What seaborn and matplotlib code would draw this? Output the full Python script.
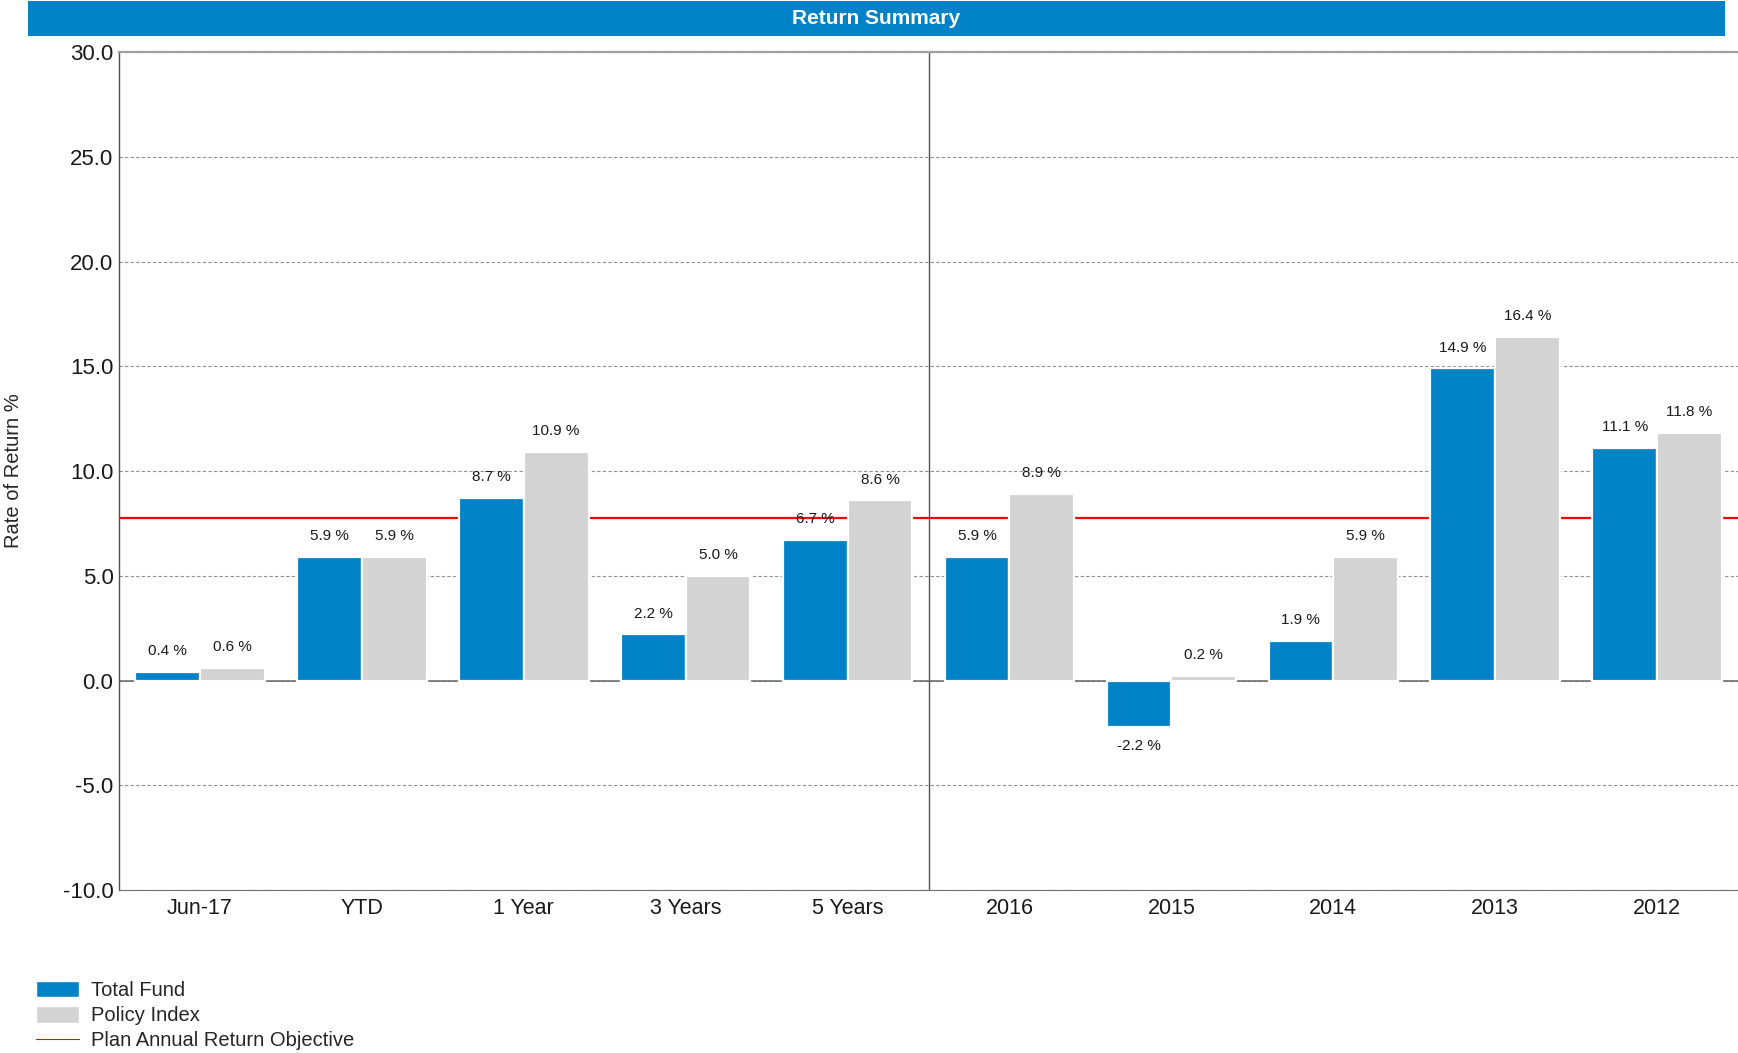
import pandas as pd
import matplotlib.pyplot as plt
import seaborn as sns
from matplotlib.patches import Rectangle, Patch
from matplotlib.lines import Line2D

# === data ===
periods = ["Jun-17", "YTD", "1 Year", "3 Years", "5 Years",
           "2016", "2015", "2014", "2013", "2012"]
total_fund = [0.4, 5.9, 8.7, 2.2, 6.7, 5.9, -2.2, 1.9, 14.9, 11.1]
policy_index = [0.6, 5.9, 10.9, 5.0, 8.6, 8.9, 0.2, 5.9, 16.4, 11.8]
objective = 7.75
y_ticks = [-10, -5, 0, 5, 10, 15, 20, 25, 30]

series_names = ["Total Fund", "Policy Index"]
blue = "#0083C6"
grey = "#D3D3D3"

df = pd.DataFrame({
    "period": periods * 2,
    "series": [series_names[0]] * len(periods) + [series_names[1]] * len(periods),
    "value": total_fund + policy_index,
})

sns.set_style("white")
plt.rcParams["font.family"] = ["Liberation Sans", "DejaVu Sans"]

fig = plt.figure(figsize=(17.38, 10.53), dpi=100)
ax = fig.add_axes([0.0685, 0.1548, 0.9315, 0.7958])

# === reference lines (behind the bars) ===
ax.axhline(0, color="#707070", lw=1.2, zorder=0.6)
ax.axhline(objective, color="#FF0000", lw=1.6, zorder=0.7)
ax.axvline(4.5, color="#505050", lw=1.0, zorder=0.7)

sns.barplot(data=df, x="period", y="value", hue="series", order=periods,
            hue_order=series_names, palette=[blue, grey], width=0.8,
            edgecolor="white", linewidth=1.6, saturation=1, errorbar=None,
            legend=False, ax=ax, zorder=1)

# === value labels ===
for cont in ax.containers:
    for bar in cont:
        h = bar.get_height()
        x = bar.get_x() + bar.get_width() / 2
        off = 15 if h >= 0 else -14
        ax.annotate(f"{h:.1f} %", (x, h), xytext=(0, off), textcoords="offset points",
                    ha="center", va="center", fontsize=11, color="#1a1a1a")

# === axes styling ===
ax.set_xlim(-0.5, 9.5)
ax.set_ylim(-10, 30)
ax.set_yticks(y_ticks)
ax.set_yticklabels([f"{v:.1f}" for v in y_ticks], fontsize=16)
ax.set_xticks(range(len(periods)))
ax.set_xticklabels(periods, fontsize=15.5)
ax.set_xlabel("")
ax.set_ylabel("")
ax.tick_params(axis="x", length=0, pad=6, colors="#1a1a1a")
ax.tick_params(axis="y", direction="in", length=14, color="#606060", pad=4,
               labelcolor="#1a1a1a")
ax.set_axisbelow(True)
ax.yaxis.grid(True, color="#909090", lw=0.8, linestyle=(0, (3, 2)))
ax.spines["left"].set_color("#505050")
ax.spines["left"].set_linewidth(1.0)
ax.spines["bottom"].set_color("#707070")
ax.spines["top"].set_color("#A0A0A0")
ax.spines["top"].set_linewidth(1.6)
ax.spines["right"].set_visible(False)

fig.text(0.008, 0.553, "Rate of Return %", rotation=90, ha="center", va="center",
         fontsize=14.5)

# === title bar ===
fig.patches.append(Rectangle((0.0161, 0.9658), 0.9764, 0.0332, transform=fig.transFigure,
                             facecolor=blue, edgecolor="none", zorder=0))
fig.text(0.504, 0.982, "Return Summary", ha="center", va="center", color="white",
         fontsize=15, fontweight="bold")

# === legend ===
handles = [Patch(facecolor=blue, edgecolor="white"),
           Patch(facecolor=grey, edgecolor="white"),
           Line2D([], [], color="#FF0000", lw=0.8)]
fig.legend(handles, ["Total Fund", "Policy Index", "Plan Annual Return Objective"],
           loc="upper left", bbox_to_anchor=(0.021, 0.068), frameon=False,
           fontsize=14.5, handlelength=2.1, handleheight=0.85, labelspacing=0.3,
           handletextpad=0.6, borderaxespad=0, borderpad=0)

fig.savefig("out.png", dpi=100)
